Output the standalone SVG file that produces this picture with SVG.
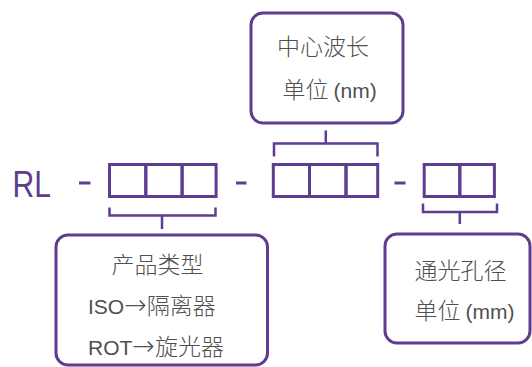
<svg xmlns="http://www.w3.org/2000/svg" width="532" height="367" viewBox="0 0 532 367">
<style>
.box{fill:#fff;stroke:#5e3c92;stroke-width:3}
.cell{fill:none;stroke:#5e3c92;stroke-width:3}
.ln{fill:none;stroke:#5e3c92;stroke-width:2.5}
.t{font-family:"Noto Sans CJK SC","Liberation Sans",sans-serif;font-size:23px;font-weight:300;fill:#505050}
.lat{font-family:"Liberation Sans",sans-serif;font-size:21px;font-weight:400}
.arr{font-family:"DejaVu Sans",sans-serif;font-size:27px;font-weight:200}
.code{font-family:"Liberation Sans",sans-serif;font-size:37px;fill:#5e3c92}
</style>
<rect width="532" height="367" fill="#fff"/>
<g id="code">
<text class="code" x="12.5" y="196.5" textLength="38.5" lengthAdjust="spacingAndGlyphs">RL</text>
<line class="cell" x1="79" y1="183" x2="90.5" y2="183"/>
<line class="cell" x1="236" y1="183" x2="246.5" y2="183"/>
<line class="cell" x1="394.5" y1="183" x2="405.5" y2="183"/>
</g>
<g id="group1">
<rect class="cell" x="109.5" y="164.5" width="36.3" height="32"/>
<rect class="cell" x="145.8" y="164.5" width="36.3" height="32"/>
<rect class="cell" x="182.1" y="164.5" width="34" height="32"/>
</g>
<g id="group2">
<rect class="cell" x="273.3" y="164.5" width="36.2" height="32"/>
<rect class="cell" x="309.5" y="164.5" width="36.5" height="32"/>
<rect class="cell" x="346" y="164.5" width="31.7" height="32"/>
</g>
<g id="group3">
<rect class="cell" x="424.2" y="164.5" width="35.6" height="32"/>
<rect class="cell" x="459.8" y="164.5" width="34.6" height="32"/>
</g>
<g id="connectors">
<path class="ln" d="M274 156.5 V143.5 H377.5 V156.5 M325.8 143.5 V130.5"/>
<path class="ln" d="M109.5 207.5 V215.5 H215.5 V207.5 M162 215.5 V229"/>
<path class="ln" d="M423 203.5 V212 H497 V203.5 M459.8 212 V224"/>
</g>
<g id="node-wavelength">
<rect class="box" x="251" y="13" width="152" height="110" rx="12"/>
<text class="t" x="277" y="54.5">中心波长</text>
<text class="t" x="282.5" y="98">单位 <tspan class="lat">(nm)</tspan></text>
</g>
<g id="node-type">
<rect class="box" x="56" y="235" width="211.5" height="130" rx="12"/>
<text class="t" x="111.5" y="273">产品类型</text>
<text class="t" x="88" y="313.5"><tspan class="lat">ISO</tspan><tspan class="arr">→</tspan>隔离器</text>
<text class="t" x="88" y="354.5"><tspan class="lat">ROT</tspan><tspan class="arr">→</tspan>旋光器</text>
</g>
<g id="node-aperture">
<rect class="box" x="385" y="234" width="145" height="109" rx="12"/>
<text class="t" x="414.5" y="279">通光孔径</text>
<text class="t" x="414.5" y="319">单位 <tspan class="lat">(mm)</tspan></text>
</g>
</svg>
